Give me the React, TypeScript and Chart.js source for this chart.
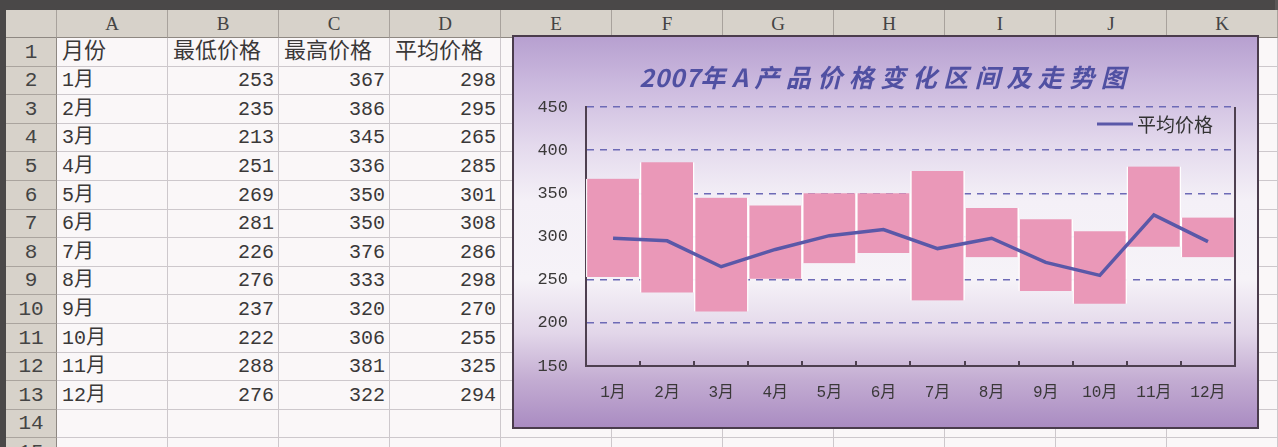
import React, { useEffect, useRef } from "react";
import { Chart, registerables } from "chart.js";

Chart.register(...registerables);

// ---------- data ----------
const months = ["1月", "2月", "3月", "4月", "5月", "6月", "7月", "8月", "9月", "10月", "11月", "12月"];
const lowPrices = [253, 235, 213, 251, 269, 281, 226, 276, 237, 222, 288, 276];
const highPrices = [367, 386, 345, 336, 350, 350, 376, 333, 320, 306, 381, 322];
const avgPrices = [298, 295, 265, 285, 301, 308, 286, 298, 270, 255, 325, 294];
const tableHeaders = ["月份", "最低价格", "最高价格", "平均价格"];
const columnLetters = ["A", "B", "C", "D", "E", "F", "G", "H", "I", "J", "K"];
const rowNumbers = [1, 2, 3, 4, 5, 6, 7, 8, 9, 10, 11, 12, 13, 14, 15];
const chartTitle = "2007年A产品价格变化区间及走势图";
const legendLabel = "平均价格";
const rangeLabel = "价格区间";
const yMin = 150;
const yMax = 450;
const yStep = 50;

// ---------- layout / style constants ----------
const COL_LEFT0 = 57;
const COL_W = 111;
const ROWHDR_LEFT = 6;
const HDR_TOP = 10;
const HDR_H = 28;
const ROW_H = 28.6;
const GRID_COLOR = "#cdc8cc";
const HDR_BG = "#d7d2ca";
const TEXT_COLOR = "#3a3838";
const CJK = '"Noto Sans CJK SC", "Noto Sans", sans-serif';
const MONO = '"Liberation Mono", "DejaVu Sans Mono", monospace';

const CHART_LEFT = 512;
const CHART_TOP = 35;
const CHART_W = 747;
const CHART_H = 394;
const CHART_BORDER = 2;

const LINE_COLOR = "#5a58a8";
const BAR_COLOR = "#ea98b8";
const AXIS_COLOR = "#4e4050";

const decorPlugin = {
  id: "excelDecor",
  afterDraw(chart: any) {
    const { ctx, chartArea, scales } = chart;
    const x = scales.x;
    ctx.save();
    // right border of plot area
    ctx.strokeStyle = AXIS_COLOR;
    ctx.lineWidth = 2;
    ctx.beginPath();
    ctx.moveTo(chartArea.right, chartArea.top);
    ctx.lineTo(chartArea.right, chartArea.bottom);
    ctx.stroke();
    // inner tick marks on category boundaries
    const n = chart.data.labels.length;
    const half = (x.getPixelForValue(1) - x.getPixelForValue(0)) / 2;
    for (let i = 1; i < n; i++) {
      const px = Math.round(x.getPixelForValue(i) - half);
      ctx.beginPath();
      ctx.moveTo(px, chartArea.bottom);
      ctx.lineTo(px, chartArea.bottom - 5);
      ctx.stroke();
    }
    // legend (inside plot, top right)
    const ly = chartArea.top + 17;
    const lx = chartArea.right - 138;
    ctx.strokeStyle = LINE_COLOR;
    ctx.lineWidth = 3;
    ctx.beginPath();
    ctx.moveTo(lx, ly);
    ctx.lineTo(lx + 36, ly);
    ctx.stroke();
    ctx.fillStyle = "#333333";
    ctx.font = `19px ${CJK}`;
    ctx.textBaseline = "middle";
    ctx.textAlign = "left";
    ctx.fillText(legendLabel, lx + 40, ly + 1);
    // title
    ctx.font = `italic bold 25px ${CJK}`;
    ctx.fillStyle = "#5050a2";
    const chars = Array.from(chartTitle);
    const gap = (c: string) => (/[0-9]/.test(c) ? 0.5 : 6.5);
    let total = 0;
    chars.forEach((c, i) => {
      total += ctx.measureText(c).width + (i < chars.length - 1 ? gap(c) : 0);
    });
    let tx = chart.width / 2 - total / 2 - 3;
    const ty = 40;
    chars.forEach((c) => {
      ctx.fillText(c, tx, ty);
      tx += ctx.measureText(c).width + gap(c);
    });
    ctx.restore();
  },
};

function PriceChart() {
  const ref = useRef<HTMLCanvasElement | null>(null);
  useEffect(() => {
    if (!ref.current) return;
    const chart = new Chart(ref.current, {
      type: "bar",
      data: {
        labels: months,
        datasets: [
          {
            type: "line",
            label: legendLabel,
            data: avgPrices,
            borderColor: LINE_COLOR,
            borderWidth: 3.5,
            pointRadius: 0,
            tension: 0,
            order: 0,
          } as any,
          {
            type: "bar",
            label: rangeLabel,
            data: months.map((_, i) => [lowPrices[i], highPrices[i]]),
            backgroundColor: BAR_COLOR,
            borderColor: "rgba(255,255,255,0.95)",
            borderWidth: { left: 1.5, right: 1.5, top: 0, bottom: 0 },
            borderSkipped: false,
            barPercentage: 1,
            categoryPercentage: 1,
            order: 1,
          } as any,
        ],
      },
      options: {
        animation: false,
        responsive: false,
        layout: { padding: { top: 70, right: 22, left: 0, bottom: 0 } },
        plugins: {
          legend: { display: false },
          title: { display: false },
          tooltip: { enabled: false },
        },
        scales: {
          x: {
            grid: { display: false, drawTicks: false },
            border: { color: AXIS_COLOR, width: 2 },
            ticks: {
              color: TEXT_COLOR,
              font: { family: `"Liberation Mono", ${CJK}`, size: 16 },
              padding: 17,
              maxRotation: 0,
              autoSkip: false,
            },
            afterFit: (s: any) => {
              s.height = 61;
            },
          },
          y: {
            min: yMin,
            max: yMax,
            ticks: {
              stepSize: yStep,
              color: TEXT_COLOR,
              font: { family: MONO, size: 17 },
              padding: 18,
            },
            grid: { color: "#6d6ab6", lineWidth: 1.5, drawTicks: false },
            border: { color: AXIS_COLOR, width: 2, dash: [7, 6] },
            afterFit: (s: any) => {
              s.width = 72;
            },
          },
        },
      } as any,
      plugins: [decorPlugin],
    });
    return () => chart.destroy();
  }, []);
  const inner = CHART_W - CHART_BORDER * 2;
  const innerH = CHART_H - CHART_BORDER * 2;
  return (
    <div
      style={{
        position: "absolute",
        left: CHART_LEFT,
        top: CHART_TOP,
        width: CHART_W,
        height: CHART_H,
        boxSizing: "border-box",
        border: `${CHART_BORDER}px solid #4a3c4c`,
        background:
          "linear-gradient(to bottom, #b7a0d0 0%, #cbb9de 12%, #e4daed 28%, #f4f0f7 42%, #f6f3f8 62%, #e2d6e9 76%, #c3acd2 88%, #aa8cc2 100%)",
      }}
    >
      <canvas ref={ref} width={inner} height={innerH} style={{ width: inner, height: innerH, display: "block" }} />
    </div>
  );
}

function Sheet() {
  const cells: React.ReactNode[] = [];
  const nCols = columnLetters.length;
  const rowTop = (i: number) => Math.round(HDR_TOP + HDR_H + i * ROW_H);
  // column headers
  columnLetters.forEach((l, j) => {
    cells.push(
      <div
        key={"ch" + j}
        style={{
          position: "absolute",
          left: COL_LEFT0 + j * COL_W,
          top: HDR_TOP,
          width: COL_W,
          height: HDR_H,
          boxSizing: "border-box",
          background: HDR_BG,
          borderRight: "1px solid #a8a29c",
          borderBottom: "1px solid #8e8882",
          textAlign: "center",
          lineHeight: HDR_H + "px",
          fontFamily: '"Liberation Serif", serif',
          fontSize: 19,
          color: "#444",
        }}
      >
        {l}
      </div>
    );
  });
  cells.push(
    <div
      key="corner"
      style={{
        position: "absolute",
        left: ROWHDR_LEFT,
        top: HDR_TOP,
        width: COL_LEFT0 - ROWHDR_LEFT,
        height: HDR_H,
        boxSizing: "border-box",
        background: HDR_BG,
        borderRight: "1px solid #a8a29c",
        borderBottom: "1px solid #8e8882",
      }}
    />
  );
  rowNumbers.forEach((r, i) => {
    const top = rowTop(i);
    const h = rowTop(i + 1) - top;
    cells.push(
      <div
        key={"rh" + r}
        style={{
          position: "absolute",
          left: ROWHDR_LEFT,
          top,
          width: COL_LEFT0 - ROWHDR_LEFT,
          height: h,
          boxSizing: "border-box",
          background: HDR_BG,
          borderRight: "1px solid #8e8882",
          borderBottom: "1px solid #aaa49e",
          textAlign: "center",
          lineHeight: h + "px",
          fontFamily: MONO,
          fontSize: 21,
          color: "#444",
        }}
      >
        {r}
      </div>
    );
    for (let j = 0; j < nCols; j++) {
      let text: string | number = "";
      let align: "left" | "right" = "left";
      let isNum = false;
      if (r === 1 && j < tableHeaders.length) text = tableHeaders[j];
      if (r >= 2 && r <= 13) {
        const k = r - 2;
        if (j === 0) text = months[k];
        if (j === 1) { text = lowPrices[k]; align = "right"; isNum = true; }
        if (j === 2) { text = highPrices[k]; align = "right"; isNum = true; }
        if (j === 3) { text = avgPrices[k]; align = "right"; isNum = true; }
      }
      cells.push(
        <div
          key={`c${r}_${j}`}
          style={{
            position: "absolute",
            left: COL_LEFT0 + j * COL_W,
            top,
            width: COL_W,
            height: h,
            boxSizing: "border-box",
            background: "#faf7f8",
            borderRight: `1px solid ${GRID_COLOR}`,
            borderBottom: `1px solid ${GRID_COLOR}`,
            textAlign: align,
            padding: align === "right" ? "0 4px 0 0" : "0 0 0 5px",
            lineHeight: h + "px",
            fontFamily: isNum ? MONO : `"Liberation Mono", ${CJK}`,
            fontSize: isNum ? 20 : r === 1 ? 22 : 20,
            color: TEXT_COLOR,
            whiteSpace: "nowrap",
            overflow: "visible",
          }}
        >
          {text}
        </div>
      );
    }
  });
  return <>{cells}</>;
}

export default function App() {
  return (
    <div
      style={{
        position: "fixed",
        left: 0,
        top: 0,
        width: 1278,
        height: 447,
        overflow: "hidden",
        background: "#4a4848",
      }}
    >
      <div style={{ position: "absolute", left: 1275, top: 0, width: 3, height: 447, background: "#5a5858" }} />
      <Sheet />
      <PriceChart />
    </div>
  );
}
